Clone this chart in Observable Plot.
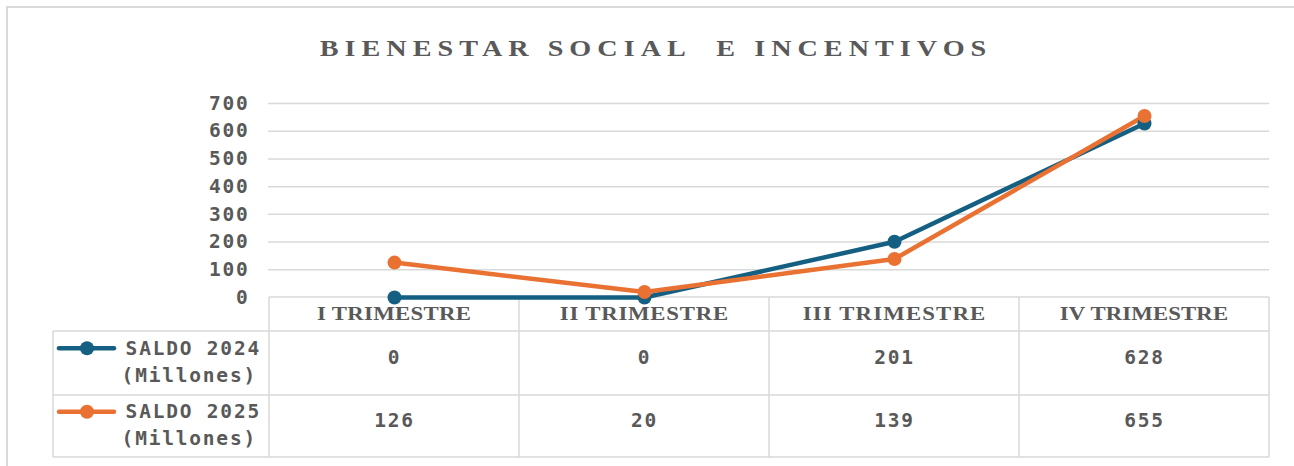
<!DOCTYPE html>
<html>
<head>
<meta charset="utf-8">
<script src="https://cdn.jsdelivr.net/npm/d3@7"></script>
<script src="https://cdn.jsdelivr.net/npm/@observablehq/plot@0.6"></script>
<style>
  html, body { margin: 0; padding: 0; background: #ffffff; }
  #chart { position: relative; width: 1294px; height: 466px; overflow: hidden; }
  #chart svg { position: absolute; left: 0; top: 0; }
  g[aria-label="y-axis tick label"] text { letter-spacing: 1.8px; }
  .mono-sans { letter-spacing: 1.8px; }
</style>
</head>
<body>
<div id="chart"></div>
<script>
// ---- data ----
const categories = ["I TRIMESTRE", "II TRIMESTRE", "III TRIMESTRE", "IV TRIMESTRE"];
const seriesNames = ["SALDO 2024", "SALDO 2025"];
const seriesUnits = ["(Millones)", "(Millones)"];
const saldo2024 = [0, 0, 201, 628];
const saldo2025 = [126, 20, 139, 655];
const yTicks = [0, 100, 200, 300, 400, 500, 600, 700];
const titleText = "BIENESTAR SOCIAL  E INCENTIVOS";
const colors = ["#156082", "#E97132"];

const seriesValues = [saldo2024, saldo2025];
const data = seriesNames.flatMap((s, i) =>
  categories.map((c, j) => ({series: s, cat: c, value: seriesValues[i][j], row: i}))
);

const SANS = "'DejaVu Sans Mono', monospace";
const SERIF = "'Liberation Serif', serif";
const GRAY = "#595959";
const LINE = "#d9d9d9";

// table row layout (pixels below the zero line)
const headerH = 34, rowH = [64, 62];

const chart = Plot.plot({
  width: 1294,
  height: 466,
  marginLeft: 268,
  marginRight: 25,
  marginTop: 103,
  marginBottom: 169,
  style: {background: "transparent", color: GRAY, fontFamily: SANS},
  x: {type: "point", domain: categories, padding: 0.5, axis: null},
  y: {domain: [0, 700], ticks: yTicks, label: null, axis: null},
  color: {domain: seriesNames, range: colors},
  marks: [
    Plot.ruleY(yTicks.filter(d => d > 0), {stroke: LINE, strokeWidth: 1.5}),
    Plot.axisY({ticks: yTicks, tickSize: 0, tickPadding: 19, label: null,
      fontFamily: SANS, fontSize: 19.5, fontWeight: "bold", fill: GRAY}),
    Plot.line(data, {x: "cat", y: "value", z: "series", stroke: "series", strokeWidth: 4.5}),
    Plot.dot(data, {x: "cat", y: "value", fill: "series", r: 7}),
    // values rows
    Plot.text(data, {x: "cat", text: d => String(d.value), frameAnchor: "bottom",
      fontFamily: SANS, fontSize: 19.5, fontWeight: "bold", fill: GRAY,
      className: "mono-sans", filter: d => d.row === 0,
      dy: headerH + rowH[0] / 2}),
    Plot.text(data, {x: "cat", text: d => String(d.value), frameAnchor: "bottom",
      fontFamily: SANS, fontSize: 19.5, fontWeight: "bold", fill: GRAY,
      className: "mono-sans", filter: d => d.row === 1,
      dy: headerH + rowH[0] + rowH[1] / 2})
  ]
});

document.getElementById("chart").appendChild(chart);

const svg = d3.select(chart);
const xs = chart.scale("x");
const ys = chart.scale("y");
const cs = chart.scale("color");
const step = xs.apply(categories[1]) - xs.apply(categories[0]);
const left = xs.apply(categories[0]) - step / 2;
const right = xs.apply(categories[categories.length - 1]) + step / 2;
const y0 = ys.apply(0);
const yH = y0 + headerH;
const y1 = yH + rowH[0];
const y2 = y1 + rowH[1];
const legendLeft = 53;

// bold serif text stretched to a typewriter-like pitch (one text element per label)
function pitchedText(parent, str, cx, cy, size, pitch, sx) {
  const len = (str.length * pitch - pitch * 0.15) / sx;
  return parent.append("text")
    .attr("transform", `translate(${cx},${cy}) scale(${sx},1)`)
    .attr("x", 0).attr("y", 0)
    .attr("text-anchor", "middle").attr("dominant-baseline", "central")
    .attr("textLength", len).attr("lengthAdjust", "spacing")
    .attr("font-family", SERIF).attr("font-size", size).attr("font-weight", "bold")
    .attr("fill", GRAY).style("white-space", "pre")
    .text(str);
}

const g = svg.insert("g", ":first-child").attr("stroke", LINE).attr("stroke-width", 1.5).attr("fill", "none");
// outer frame
g.append("rect").attr("x", 7).attr("y", 7).attr("width", 1320).attr("height", 500).attr("stroke-width", 2);
// table horizontal lines
g.append("line").attr("x1", left).attr("x2", right).attr("y1", y0).attr("y2", y0);
[yH, y1, y2].forEach(y => g.append("line").attr("x1", legendLeft).attr("x2", right).attr("y1", y).attr("y2", y));
// verticals
g.append("line").attr("x1", legendLeft).attr("x2", legendLeft).attr("y1", yH).attr("y2", y2);
categories.forEach(c => {
  const e = xs.apply(c) - step / 2;
  g.append("line").attr("x1", e).attr("x2", e).attr("y1", y0).attr("y2", y2);
});
g.append("line").attr("x1", right).attr("x2", right).attr("y1", y0).attr("y2", y2);

// header row (category labels)
const hg = svg.append("g");
categories.forEach(c => pitchedText(hg, c, xs.apply(c), y0 + headerH / 2, 19, 14.2, 1.2));

// legend cells
const rowTops = [yH, y1];
seriesNames.forEach((s, i) => {
  const top = rowTops[i];
  const h = rowH[i];
  const col = cs.apply(s);
  const ly = top + h * 0.27;
  const lg = svg.append("g");
  lg.append("line").attr("x1", 59).attr("x2", 114).attr("y1", ly).attr("y2", ly)
    .attr("stroke", col).attr("stroke-width", 4.5).attr("stroke-linecap", "round");
  lg.append("circle").attr("cx", 87).attr("cy", ly).attr("r", 7).attr("fill", col);
  lg.append("text").attr("class", "mono-sans").attr("x", 261).attr("y", ly)
    .attr("text-anchor", "end").attr("dominant-baseline", "central")
    .attr("font-family", SANS).attr("font-size", 19.5).attr("font-weight", "bold").attr("fill", GRAY)
    .text(s);
  lg.append("text").attr("class", "mono-sans").attr("x", 257).attr("y", ly + 27)
    .attr("text-anchor", "end").attr("dominant-baseline", "central")
    .attr("font-family", SANS).attr("font-size", 19.5).attr("font-weight", "bold").attr("fill", GRAY)
    .text(seriesUnits[i]);
});

// title
pitchedText(svg, titleText, 653, 48, 23.5, 22.33, 1.2);
</script>
</body>
</html>
